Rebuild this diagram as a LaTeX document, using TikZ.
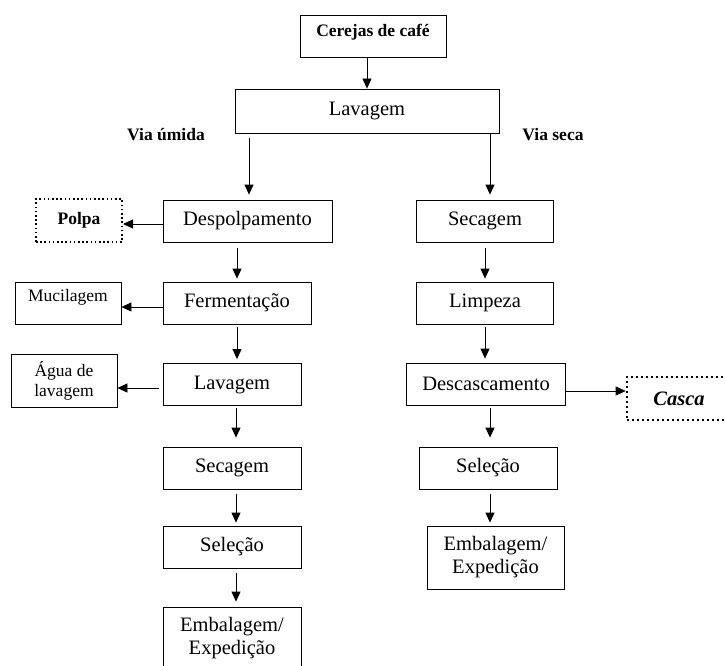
\documentclass[tikz,border=0pt]{standalone}
\usepackage{fontspec}
\setmainfont{Liberation Serif}
\usetikzlibrary{shapes,arrows.meta}

\begin{document}
\begin{tikzpicture}[x=1pt, y=-1pt]
	\tikzstyle{block} = [rectangle, draw, line width=0.8pt, fill=white, align=center, inner sep=0pt, minimum width=138pt, minimum height=42pt, font=\fontsize{20.5}{23}\selectfont]
	\tikzstyle{sideblock} = [block, minimum width=106pt, font=\fontsize{17.5}{20}\selectfont]
	\tikzstyle{waste} = [block, line width=2pt, dash pattern=on 1.6pt off 2.6pt]
	\tikzstyle{via} = [font=\bfseries\fontsize{17.5}{20}\selectfont]
	\tikzstyle{line} = [draw, line width=0.8pt, -{Triangle[length=10pt,width=9pt]}]

	\useasboundingbox (0,0) rectangle (725,666);

	% top
	\node [block, minimum width=146pt, text depth=11pt, font=\bfseries\fontsize{17.5}{20}\selectfont] (cerejas) at (373,36) {Cerejas de café};
	\node [block, minimum width=264pt, minimum height=44pt] (lavagem) at (367,111) {Lavagem};
	\node [via] (umida) at (166,135) {Via úmida};
	\node [via] (seca) at (553,135) {Via seca};

	% via umida
	\node [block, minimum width=169pt] (despolpa) at (247.5,221) {Despolpamento};
	\node [block, minimum width=148pt] (ferment) at (237,303) {Fermentação};
	\node [block] (lavagemu) at (232,384.5) {Lavagem};
	\node [block] (secagemu) at (232,468) {Secagem};
	\node [block] (selecaou) at (232,547) {Seleção};
	\node [block, minimum height=63pt] (embalau) at (232,638.5) {Embalagem/\\Expedição};

	\node [waste, minimum width=86pt, minimum height=43pt, font=\bfseries\fontsize{17.5}{20}\selectfont] (polpa) at (79,220.5) {Polpa};
	\node [sideblock, text depth=16pt] (mucilagem) at (68,303) {Mucilagem};
	\node [sideblock, minimum height=53pt] (agua) at (64,380.5) {Água de\\lavagem};

	% via seca
	\node [block, minimum width=137pt] (secagems) at (485,221) {Secagem};
	\node [block, minimum width=137pt] (limpeza) at (485,303) {Limpeza};
	\node [block, minimum width=159pt] (descasca) at (486,384) {Descascamento};
	\node [block] (selecaos) at (488,468) {Seleção};
	\node [block, minimum width=137pt, minimum height=63pt] (embalas) at (495.5,557.5) {Embalagem/\\Expedição};

	\node [waste, line width=2.6pt, dash pattern=on 2.4pt off 2.6pt, minimum width=104pt, minimum height=43pt, font=\bfseries\itshape\fontsize{20.5}{23}\selectfont] (casca) at (679,398.5) {Casca};

	\path [line] (cerejas.south -| lavagem) -- (lavagem.north);
	\path [line, shorten <=5pt, shorten >=5pt] ([xshift=1.5pt]despolpa.north |- lavagem.south) -- ([xshift=1.5pt]despolpa.north);
	\path [line, shorten >=5pt] ([xshift=5pt]secagems.north |- lavagem.south) -- ([xshift=5pt]secagems.north);

	\path [line, shorten <=6pt, shorten >=3pt] (despolpa.south -| ferment) -- (ferment.north);
	\path [line, shorten <=3pt, shorten >=4pt] (ferment.south) -- (ferment.south |- lavagemu.north);
	\path [line, shorten <=2pt, shorten >=9pt] ([xshift=4pt]lavagemu.south) -- ([xshift=4pt]secagemu.north);
	\path [line, shorten <=5pt, shorten >=3pt] ([xshift=4pt]secagemu.south) -- ([xshift=4pt]selecaou.north);
	\path [line, shorten <=5pt, shorten >=5pt] ([xshift=4pt]selecaou.south) -- ([xshift=4pt]embalau.north);

	\path [line] ([yshift=-3pt]despolpa.west) -- ([yshift=-3pt]despolpa.west -| polpa.east);
	\path [line] ([yshift=-4pt]ferment.west) -- ([yshift=-4pt]ferment.west -| mucilagem.east);
	\path [line, shorten <=4pt] ([yshift=-3.5pt]lavagemu.west) -- ([yshift=-3.5pt]lavagemu.west -| agua.east);

	\path [line, shorten <=6pt, shorten >=3pt] (secagems.south) -- (limpeza.north);
	\path [line, shorten <=3pt, shorten >=4pt] (limpeza.south) -- (limpeza.south |- descasca.north);
	\path [line, shorten <=3pt, shorten >=9pt] ([xshift=4pt]descasca.south) -- ([xshift=4pt]descasca.south |- selecaos.north);
	\path [line, shorten <=5pt, shorten >=3pt] ([xshift=2pt]selecaos.south) -- ([xshift=2pt]selecaos.south |- embalas.north);
	\path [line] ([yshift=-7pt]descasca.east) -- ([yshift=-7pt]descasca.east -| casca.west);

\end{tikzpicture}
\end{document}
